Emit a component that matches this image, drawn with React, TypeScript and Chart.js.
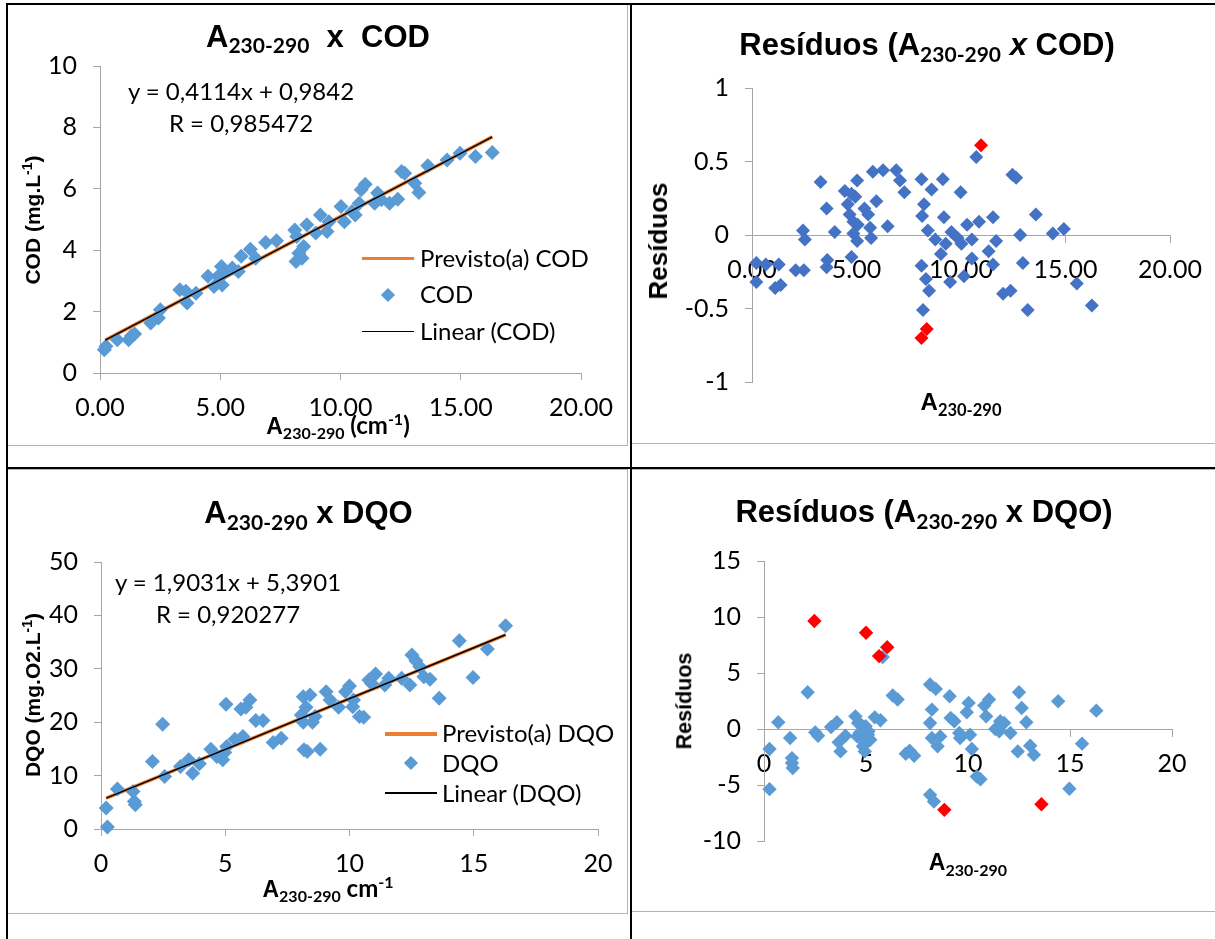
import React, { useEffect, useRef } from "react";
import { Chart, registerables } from "chart.js";

Chart.register(...registerables);

// ---------------- DATA ----------------
// Chart 1: A230-290 x COD
const codX = [0.18, 0.25, 0.72, 1.19, 1.31, 1.44, 2.11, 2.43, 2.51, 3.32, 3.57, 3.62, 3.99, 4.49, 4.74, 4.91, 5.05, 5.08, 5.16, 5.5, 5.75, 5.87, 6.25, 6.47, 6.89, 7.34, 8.1, 8.18, 8.15, 8.27, 8.4, 8.47, 8.6, 8.97, 9.16, 9.44, 9.52, 10.02, 10.16, 10.48, 10.61, 10.78, 10.86, 11.03, 11.42, 11.54, 11.7, 12.04, 12.38, 12.54, 12.67, 13.09, 13.26, 13.63, 14.43, 14.97, 15.61, 16.31];
const codY = [0.76, 0.87, 1.08, 1.08, 1.21, 1.27, 1.63, 1.79, 2.06, 2.71, 2.66, 2.28, 2.6, 3.15, 2.82, 3.15, 3.47, 2.87, 3.25, 3.42, 3.31, 3.8, 4.03, 3.74, 4.25, 4.31, 4.66, 4.45, 3.63, 3.9, 3.74, 4.12, 4.83, 4.56, 5.15, 4.61, 4.93, 5.42, 4.93, 5.26, 5.15, 5.53, 5.97, 6.15, 5.53, 5.86, 5.64, 5.53, 5.66, 6.56, 6.51, 6.18, 5.88, 6.75, 6.94, 7.16, 7.05, 7.18];
const codFitX = [0.22, 16.31];
const codFitY = [1.07, 7.69];

// Chart 2: residuals COD
const resCodX = [0.21, 0.21, 0.66, 1.11, 1.28, 1.37, 2.09, 2.44, 2.53, 2.48, 3.28, 3.57, 3.6, 3.57, 3.96, 4.44, 4.58, 4.67, 4.76, 4.85, 4.85, 4.76, 4.94, 5.03, 5.03, 5.06, 5.38, 5.56, 5.65, 5.7, 5.78, 5.95, 6.27, 6.49, 6.9, 7.08, 7.29, 8.11, 8.11, 8.18, 8.23, 8.14, 8.32, 8.41, 8.47, 8.59, 8.77, 9.04, 9.13, 9.18, 9.27, 9.48, 9.54, 9.84, 9.98, 10.02, 10.14, 10.29, 10.52, 10.52, 10.73, 10.86, 11.32, 11.53, 11.53, 11.68, 12.01, 12.37, 12.46, 12.64, 12.83, 12.96, 13.19, 13.58, 14.39, 14.92, 15.54, 16.26];
const resCodY = [-0.19, -0.32, -0.2, -0.36, -0.2, -0.34, -0.24, 0.03, -0.03, -0.24, 0.36, 0.18, -0.17, -0.22, 0.02, 0.3, 0.21, 0.14, 0.28, 0.09, 0.01, -0.15, 0.26, 0.37, -0.04, 0.07, 0.18, 0.14, 0.05, -0.02, 0.43, 0.23, 0.44, 0.06, 0.44, 0.37, 0.29, 0.38, -0.21, -0.51, 0.21, 0.13, -0.3, 0.03, -0.38, 0.31, -0.03, -0.13, 0.38, 0.12, -0.06, -0.32, 0.02, -0.02, 0.29, -0.06, -0.28, 0.07, -0.03, -0.16, 0.53, 0.09, -0.11, 0.12, -0.2, -0.04, -0.4, -0.38, 0.41, 0.39, 0.0, -0.19, -0.51, 0.14, 0.01, 0.04, -0.33, -0.48];
const resCodOutX = [10.96, 8.11, 8.36];
const resCodOutY = [0.61, -0.7, -0.64];

// Chart 3: A230-290 x DQO
const dqoX = [0.21, 0.26, 0.66, 1.29, 1.34, 1.38, 2.07, 2.48, 2.56, 3.2, 3.53, 3.69, 3.96, 4.42, 4.66, 4.9, 4.98, 5.03, 5.06, 5.39, 5.63, 5.71, 5.83, 5.99, 6.23, 6.52, 6.93, 7.25, 8.06, 8.14, 8.17, 8.14, 8.3, 8.25, 8.41, 8.51, 8.62, 8.82, 9.06, 9.22, 9.56, 9.84, 10.0, 10.13, 10.16, 10.4, 10.57, 10.78, 10.89, 11.05, 11.42, 11.58, 12.1, 12.43, 12.51, 12.67, 12.83, 12.99, 13.24, 13.61, 14.42, 14.97, 15.55, 16.28];
const dqoY = [3.92, 0.37, 7.47, 7.04, 5.17, 4.55, 12.64, 19.61, 9.84, 11.71, 12.95, 10.46, 12.2, 14.94, 13.57, 12.95, 14.32, 23.35, 15.44, 16.81, 22.48, 17.31, 22.79, 24.16, 20.3, 20.3, 16.19, 17.0, 21.36, 19.99, 14.82, 24.78, 14.51, 22.79, 25.09, 19.99, 21.05, 14.94, 25.72, 24.16, 22.79, 25.72, 26.77, 22.91, 24.16, 21.05, 20.92, 27.9, 27.27, 29.02, 26.96, 28.21, 28.21, 26.96, 32.57, 31.51, 30.39, 28.52, 28.02, 24.47, 35.24, 28.39, 33.69, 38.04];
const dqoFitX = [0.21, 16.28];
const dqoFitY = [5.79, 36.37];

// Chart 4: residuals DQO
const resDqoX = [0.27, 0.27, 0.7, 1.28, 1.37, 1.37, 1.41, 2.14, 2.51, 2.65, 3.29, 3.57, 3.66, 3.75, 3.99, 4.48, 4.57, 4.76, 4.85, 4.9, 4.98, 5.03, 5.12, 4.94, 5.21, 5.43, 5.71, 5.82, 6.31, 6.55, 6.95, 7.14, 7.36, 8.14, 8.14, 8.23, 8.23, 8.14, 8.33, 8.42, 8.51, 8.64, 9.1, 9.15, 9.33, 9.57, 9.61, 9.94, 10.03, 10.1, 10.19, 10.43, 10.61, 10.8, 10.89, 11.03, 11.34, 11.58, 11.53, 11.77, 12.08, 12.44, 12.5, 12.63, 12.86, 13.05, 13.23, 14.42, 14.97, 15.59, 16.29, 4.61, 4.69, 5.1, 4.94];
const resDqoY = [-1.79, -5.37, 0.6, -0.81, -2.6, -3.04, -3.49, 3.28, -0.3, -0.6, 0.18, 0.6, -1.19, -2.0, -0.6, 1.13, -0.66, 0.39, -1.55, -0.06, 0.24, -0.66, -0.21, -2.0, -0.96, 1.04, 0.78, 6.42, 2.99, 2.63, -2.21, -1.94, -2.39, 3.97, 0.54, 1.73, -0.81, -5.88, -6.48, 3.58, -1.55, -0.66, 2.93, 0.99, 0.69, -0.36, -0.81, 1.49, 2.33, -0.51, -1.79, -4.24, -4.48, 2.09, 1.13, 2.63, 0.0, 0.69, -0.21, 0.54, -0.36, -2.0, 3.28, 1.88, 0.6, -1.49, -2.3, 2.48, -5.34, -1.31, 1.64, 0.54, -0.36, -0.51, -1.25];
const resDqoOutX = [2.47, 5.0, 5.64, 6.04, 8.84, 13.6];
const resDqoOutY = [9.64, 8.6, 6.51, 7.31, -7.22, -6.72];

// ---------------- STYLE ----------------
const AXIS_GRAY = "#A6A6A6";
const ARIAL = '"Liberation Sans", Arial, sans-serif';
const LATO = 'Lato, "Liberation Sans", sans-serif';
const TICK_FONT = { family: LATO, size: 25 };
const BLUE = "#5B9BD5";
const DARK_BLUE = "#4472C4";
const RED = "#FF0000";
const ORANGE = "#ED7D31";

const pts = (xs: number[], ys: number[]) => xs.map((x, i) => ({ x, y: ys[i] }));

function markers(label: string, xs: number[], ys: number[], color: string, r: number, order: number) {
  return {
    label,
    data: pts(xs, ys),
    showLine: false,
    pointStyle: "rectRot",
    pointRadius: r,
    pointHoverRadius: r,
    backgroundColor: color,
    borderColor: color,
    borderWidth: 0,
    clip: false,
    order,
  };
}

function line(label: string, xs: number[], ys: number[], color: string, w: number, order: number) {
  return {
    label,
    data: pts(xs, ys),
    showLine: true,
    pointRadius: 0,
    pointHoverRadius: 0,
    borderColor: color,
    backgroundColor: color,
    borderWidth: w,
    fill: false,
    order,
  };
}

type AxisSpec = { min: number; max: number; step: number; fmt: (v: number) => string; size?: number; atZero?: boolean };

function buildConfig(datasets: any[], xs: AxisSpec, ys: AxisSpec, padding: any) {
  const gridOpts = { display: true, drawOnChartArea: false, drawTicks: true, tickLength: 7, color: AXIS_GRAY, lineWidth: 1 };
  const borderOpts = { display: true, color: AXIS_GRAY, width: 1 };
  const xScale: any = {
    type: "linear",
    min: xs.min,
    max: xs.max,
    position: xs.atZero ? { y: 0 } : "bottom",
    ticks: { stepSize: xs.step, callback: (v: any) => xs.fmt(Number(v)), font: TICK_FONT, color: "#000", padding: 13, maxRotation: 0, autoSkip: false },
    grid: gridOpts,
    border: borderOpts,
  };
  if (xs.size != null) xScale.afterFit = (s: any) => { s.height = xs.size; };
  const yScale: any = {
    type: "linear",
    min: ys.min,
    max: ys.max,
    position: "left",
    ticks: { stepSize: ys.step, callback: (v: any) => ys.fmt(Number(v)), font: TICK_FONT, color: "#000", padding: 16, autoSkip: false },
    grid: gridOpts,
    border: borderOpts,
    afterFit: (s: any) => { s.width = ys.size; },
  };
  return {
    type: "scatter",
    data: { datasets },
    options: {
      responsive: false,
      animation: false,
      events: [],
      layout: { padding },
      plugins: { legend: { display: false }, tooltip: { enabled: false }, title: { display: false } },
      scales: { x: xScale, y: yScale },
    },
  } as any;
}

const fix2 = (v: number) => v.toFixed(2);
const plain = (v: number) => String(v);

function ChartBox(props: { left: number; top: number; width: number; height: number; make: () => any }) {
  const ref = useRef<HTMLCanvasElement>(null);
  useEffect(() => {
    const chart = new Chart(ref.current as HTMLCanvasElement, props.make());
    return () => chart.destroy();
  }, []);
  return (
    <canvas
      ref={ref}
      width={props.width}
      height={props.height}
      style={{ position: "absolute", left: props.left, top: props.top, width: props.width, height: props.height }}
    />
  );
}

// ---------------- TEXT HELPERS ----------------
const K_ARIAL = 0.8465;
const K_LATO = 0.887;

function Centered(props: { cx: number; base: number; fs: number; font: string; bold?: boolean; children: any }) {
  const k = props.font === ARIAL ? K_ARIAL : K_LATO;
  return (
    <div
      style={{
        position: "absolute",
        left: props.cx - 300,
        width: 600,
        textAlign: "center",
        top: props.base - k * props.fs,
        fontFamily: props.font,
        fontWeight: props.bold ? "bold" : "normal",
        fontSize: props.fs,
        lineHeight: props.fs + "px",
        whiteSpace: "pre",
        color: "#000",
      }}
    >
      {props.children}
    </div>
  );
}

function Sub(props: { fs: number; drop: number; font?: string; children: any }) {
  return (
    <span style={{ fontFamily: props.font || LATO, fontSize: props.fs, position: "relative", top: props.drop, lineHeight: 0, fontWeight: "bold" }}>
      {props.children}
    </span>
  );
}

function F(props: { font: string; fs?: number; italic?: boolean; children: any }) {
  return (
    <span style={{ fontFamily: props.font, fontSize: props.fs, fontStyle: props.italic ? "italic" : "normal", lineHeight: 0 }}>{props.children}</span>
  );
}

function Rotated(props: { cx: number; cy: number; fs: number; children: any }) {
  return (
    <div
      style={{
        position: "absolute",
        left: props.cx,
        top: props.cy,
        transform: "translate(-50%,-50%) rotate(-90deg)",
        fontFamily: ARIAL,
        fontWeight: "bold",
        fontSize: props.fs,
        lineHeight: props.fs + "px",
        whiteSpace: "nowrap",
        color: "#000",
      }}
    >
      {props.children}
    </div>
  );
}

function LegendText(props: { x: number; base: number; children: any }) {
  return (
    <div style={{ position: "absolute", left: props.x, top: props.base - K_LATO * 24, fontFamily: LATO, fontSize: 24, lineHeight: "24px", whiteSpace: "pre", color: "#000" }}>
      {props.children}
    </div>
  );
}

function LegLine(props: { x1: number; x2: number; y: number; w: number; color: string }) {
  return <div style={{ position: "absolute", left: props.x1, top: props.y - props.w / 2, width: props.x2 - props.x1, height: props.w, background: props.color }} />;
}

function LegDiamond(props: { x: number; y: number; d: number; color: string }) {
  const s = props.d / Math.SQRT2;
  return (
    <div style={{ position: "absolute", left: props.x - s / 2, top: props.y - s / 2, width: s, height: s, background: props.color, transform: "rotate(45deg)" }} />
  );
}

function Rect(props: { l: number; t: number; w: number; h: number; c: string }) {
  return <div style={{ position: "absolute", left: props.l, top: props.t, width: props.w, height: props.h, background: props.c }} />;
}

function Frame(props: { l: number; t: number; w: number; h: number }) {
  return <div style={{ position: "absolute", left: props.l, top: props.t, width: props.w, height: props.h, border: "1px solid #B4B4B4", boxSizing: "border-box" }} />;
}

// ---------------- CHART CONFIGS ----------------
const makeCod = () =>
  buildConfig(
    [
      line("Linear (COD)", codFitX, codFitY, "#000000", 1.5, 0),
      markers("COD", codX, codY, BLUE, 7.5, 1),
      line("Previsto(a) COD", codFitX, codFitY, ORANGE, 3.5, 2),
    ],
    { min: 0, max: 20, step: 5, fmt: fix2, size: 72 },
    { min: 0, max: 10, step: 2, fmt: plain, size: 93 },
    { left: 0, right: 46, top: 61, bottom: 0 }
  );

const makeResCod = () =>
  buildConfig(
    [
      markers("Outliers", resCodOutX, resCodOutY, RED, 7, 0),
      markers("Resíduos", resCodX, resCodY, DARK_BLUE, 7, 1),
    ],
    { min: 0, max: 20, step: 5, fmt: fix2, atZero: true },
    { min: -1, max: 1, step: 0.5, fmt: plain, size: 119 },
    { left: 0, right: 44, top: 83, bottom: 61 }
  );

const makeDqo = () =>
  buildConfig(
    [
      line("Linear (DQO)", dqoFitX, dqoFitY, "#000000", 1.5, 0),
      markers("DQO", dqoX, dqoY, BLUE, 7.5, 1),
      line("Previsto(a) DQO", dqoFitX, dqoFitY, ORANGE, 3.5, 2),
    ],
    { min: 0, max: 20, step: 5, fmt: plain, size: 84 },
    { min: 0, max: 50, step: 10, fmt: plain, size: 94 },
    { left: 0, right: 29, top: 92, bottom: 0 }
  );

const makeResDqo = () =>
  buildConfig(
    [
      markers("Outliers", resDqoOutX, resDqoOutY, RED, 7.2, 0),
      markers("Resíduos", resDqoX, resDqoY, BLUE, 7.2, 1),
    ],
    { min: 0, max: 20, step: 5, fmt: plain, atZero: true },
    { min: -10, max: 15, step: 5, fmt: plain, size: 131 },
    { left: 0, right: 43, top: 91, bottom: 70 }
  );

// ---------------- APP ----------------
export default function App() {
  return (
    <div style={{ position: "absolute", left: 0, top: 0, width: 1215, height: 939, overflow: "hidden", background: "#fff" }}>
      {/* chart frames */}
      <Frame l={6} t={4} w={622} h={442} />
      <Frame l={631} t={4} w={590} h={440} />
      <Frame l={6} t={469} w={622} h={445} />
      <Frame l={631} t={469} w={590} h={443} />

      <ChartBox left={7} top={5} width={620} height={440} make={makeCod} />
      <ChartBox left={633} top={5} width={582} height={438} make={makeResCod} />
      <ChartBox left={7} top={470} width={620} height={443} make={makeDqo} />
      <ChartBox left={633} top={470} width={582} height={441} make={makeResDqo} />

      {/* ---- Chart 1 texts ---- */}
      <Centered cx={318} base={47} fs={31} font={ARIAL} bold>
        A<Sub fs={21} drop={6}>230-290</Sub>{"  x  COD"}
      </Centered>
      <Rotated cx={31.7} cy={220} fs={21}>
        COD (mg.L<span style={{ fontSize: 14, position: "relative", top: -8, lineHeight: 0 }}>-1</span>)
      </Rotated>
      <Centered cx={338} base={434} fs={24} font={LATO} bold>
        <F font={ARIAL} fs={23}>A</F>
        <Sub fs={16} drop={5}>230-290</Sub>
        {" (cm"}
        <span style={{ fontSize: 16, position: "relative", top: -9, lineHeight: 0 }}>-1</span>)
      </Centered>
      <Centered cx={241} base={100} fs={24} font={LATO}>y = 0,4114x + 0,9842</Centered>
      <Centered cx={241} base={132} fs={24} font={LATO}>R = 0,985472</Centered>
      <LegLine x1={362} x2={414} y={258.3} w={3.5} color={ORANGE} />
      <LegendText x={420} base={267}>Previsto(a) COD</LegendText>
      <LegDiamond x={388} y={295} d={14} color={BLUE} />
      <LegendText x={420} base={303}>COD</LegendText>
      <LegLine x1={362} x2={414} y={331.7} w={1.5} color="#000" />
      <LegendText x={420} base={340}>Linear (COD)</LegendText>

      {/* ---- Chart 2 texts ---- */}
      <Centered cx={927} base={55} fs={31} font={ARIAL} bold>
        Resíduos (A<Sub fs={21} drop={7}>230-290</Sub> <F font={ARIAL} italic>x</F> COD)
      </Centered>
      <Rotated cx={658} cy={241} fs={26}>Resíduos</Rotated>
      <Centered cx={961} base={410} fs={24} font={ARIAL} bold>
        A<Sub fs={16.5} drop={6}>230-290</Sub>
      </Centered>

      {/* ---- Chart 3 texts ---- */}
      <Centered cx={308.5} base={523} fs={31} font={ARIAL} bold>
        A<Sub fs={21} drop={7}>230-290</Sub>{" x DQO"}
      </Centered>
      <Rotated cx={31.7} cy={695} fs={21}>
        DQO (mg.O2.L<span style={{ fontSize: 14, position: "relative", top: -8, lineHeight: 0 }}>-1</span>)
      </Rotated>
      <Centered cx={328} base={897} fs={24} font={LATO} bold>
        <F font={ARIAL} fs={23}>A</F>
        <Sub fs={16} drop={5}>230-290</Sub>
        {" cm"}
        <span style={{ fontSize: 16, position: "relative", top: -9, lineHeight: 0 }}>-1</span>
      </Centered>
      <Centered cx={228} base={591} fs={24} font={LATO}>y = 1,9031x + 5,3901</Centered>
      <Centered cx={228} base={623} fs={24} font={LATO}>R = 0,920277</Centered>
      <LegLine x1={385} x2={437} y={734} w={3.5} color={ORANGE} />
      <LegendText x={442} base={742}>Previsto(a) DQO</LegendText>
      <LegDiamond x={411} y={763} d={14} color={BLUE} />
      <LegendText x={442} base={772}>DQO</LegendText>
      <LegLine x1={385} x2={437} y={793} w={1.5} color="#000" />
      <LegendText x={442} base={802}>Linear (DQO)</LegendText>

      {/* ---- Chart 4 texts ---- */}
      <Centered cx={924} base={522} fs={31} font={ARIAL} bold>
        Resíduos (A<Sub fs={21} drop={7}>230-290</Sub> x DQO)
      </Centered>
      <Rotated cx={684.5} cy={701} fs={21.5}>Resíduos</Rotated>
      <Centered cx={968} base={870} fs={23} font={ARIAL} bold>
        A<Sub fs={16} drop={6}>230-290</Sub>
      </Centered>

      {/* table lines */}
      <Rect l={6} t={3} w={1209} h={2} c="#000" />
      <Rect l={6} t={3} w={2} h={936} c="#000" />
      <Rect l={630} t={3} w={2} h={936} c="#000" />
      <Rect l={6} t={467} w={1209} h={2} c="#000" />
    </div>
  );
}
